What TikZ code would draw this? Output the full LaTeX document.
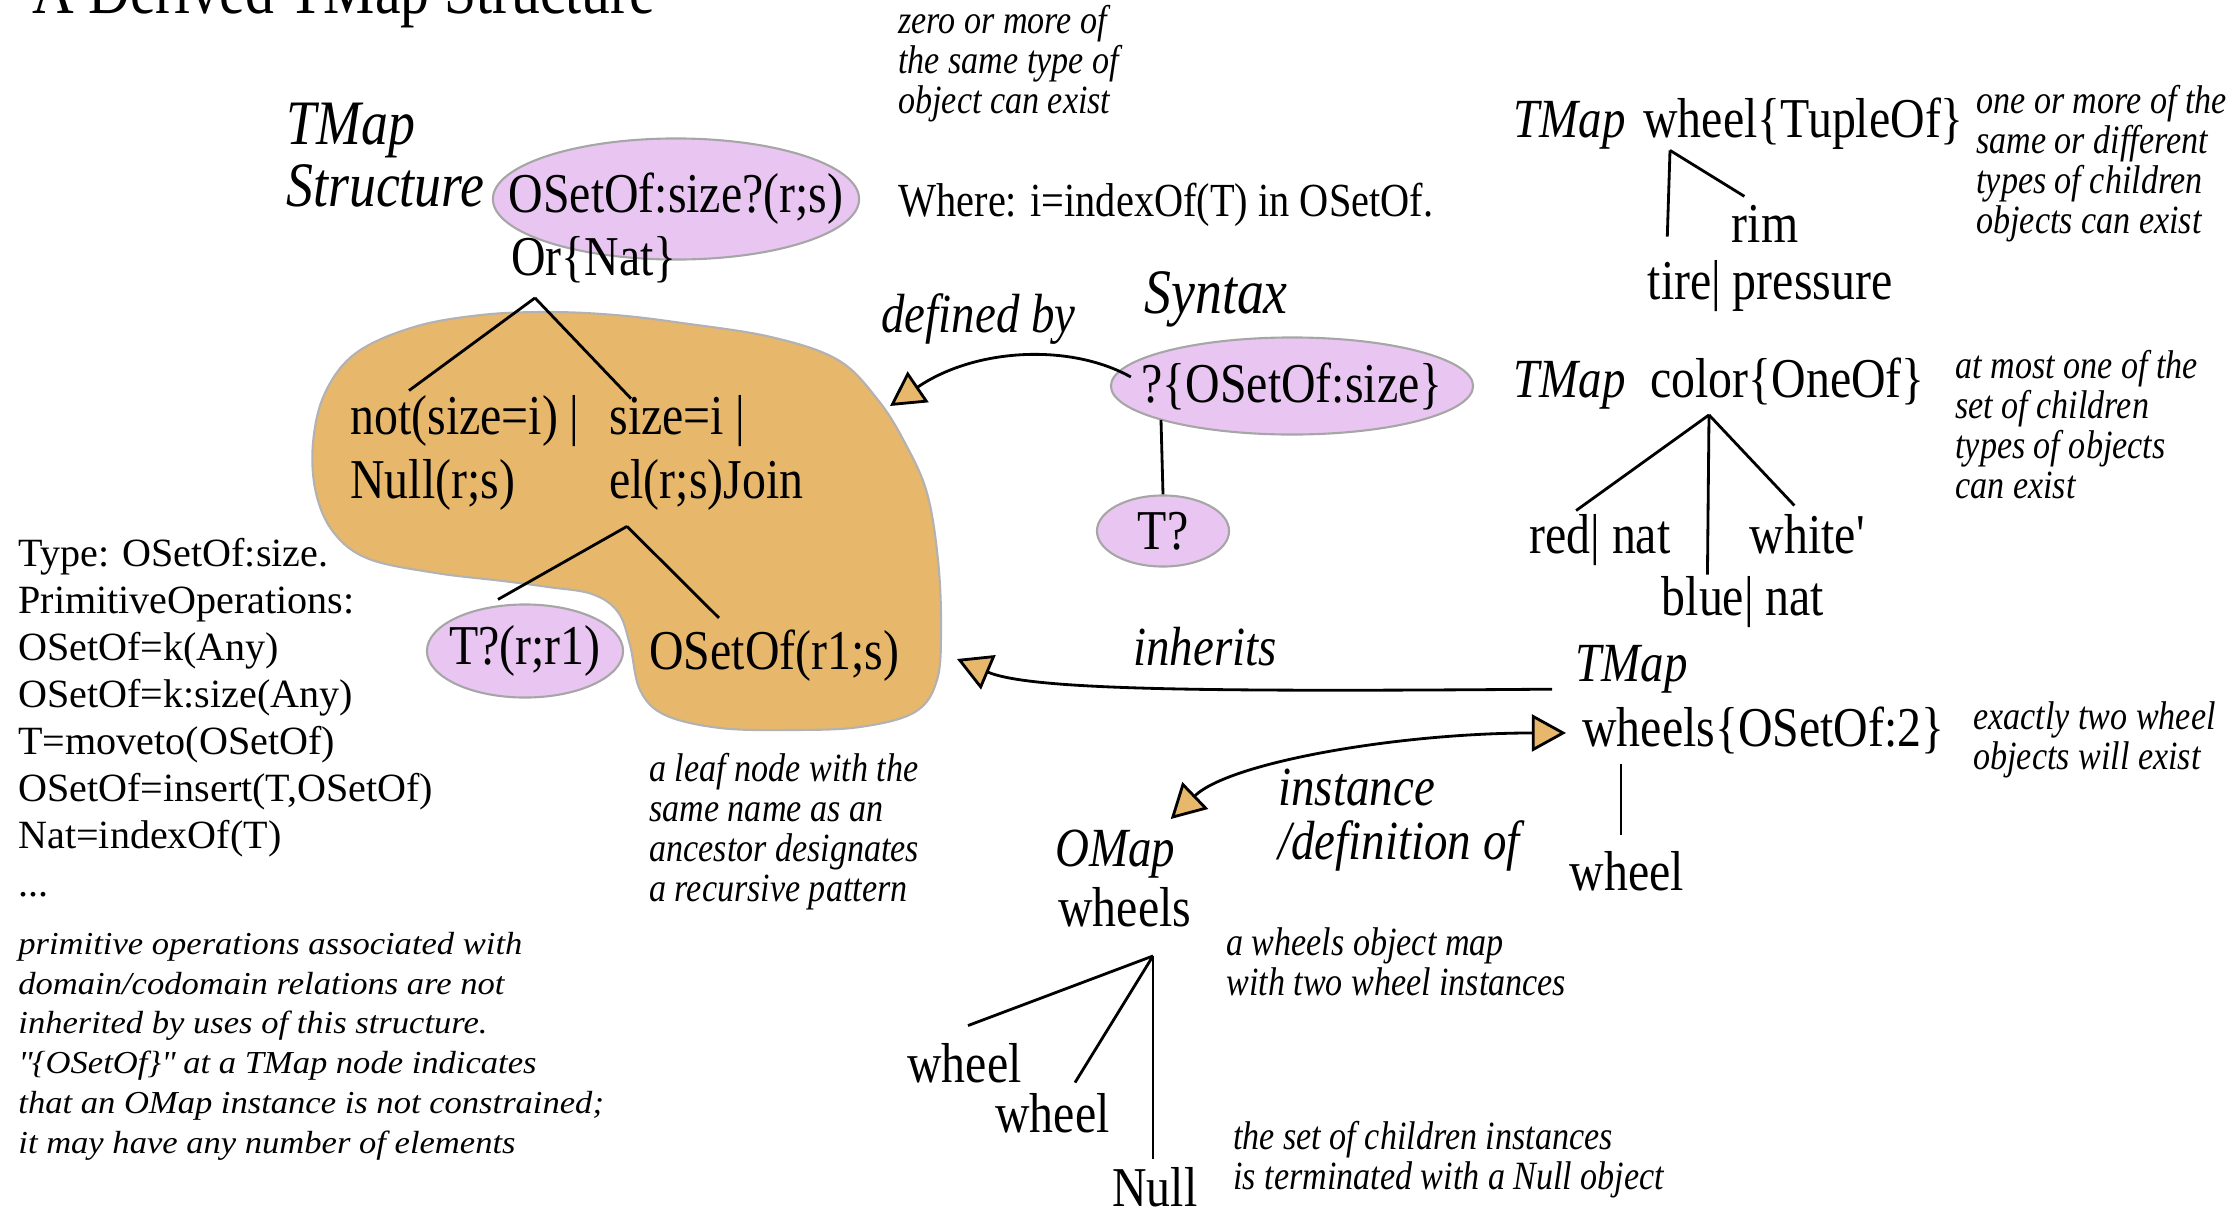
\documentclass[tikz,border=0pt]{standalone}
\usepackage{fontspec}
\setmainfont{Liberation Serif}[FakeStretch=0.85]
\newfontfamily\normalschrift{Liberation Serif}
\newfontfamily\breitschrift{Liberation Serif}[FakeStretch=1.08]
\usetikzlibrary{shapes.geometric, arrows.meta, calc}
\definecolor{lila}{RGB}{233,197,241}
\definecolor{ocker}{RGB}{231,183,108}
\newcommand{\gross}{\fontsize{16}{18.2}\selectfont}
\newcommand{\mittel}{\fontsize{13.5}{16}\selectfont}
\newcommand{\titelschrift}{\fontsize{19.3}{23}\selectfont}
\newcommand{\grosskursiv}{\fontsize{18}{20}\selectfont\itshape}
\newcommand{\kursivschrift}{\fontsize{15.7}{15.1}\selectfont\itshape}
\newcommand{\notiz}{\fontsize{11.4}{11.3}\selectfont\itshape}
\newcommand{\linksschrift}{\normalschrift\fontsize{11.4}{13.37}\selectfont}
\newcommand{\breitnotiz}{\breitschrift\itshape\fontsize{9.1}{11.3}\selectfont}

\begin{document}
\begin{tikzpicture}[x=0.01cm, y=-0.01cm,
				>={Triangle[length=9.7pt, width=10.5pt, fill=ocker]},   %Pfeilspitzen
				font=\gross, line width=0.8pt,
				blase/.style={ellipse, draw=gray!70, line width=0.6pt, fill=lila, inner sep=0pt},
				txt/.style={anchor=base west, inner sep=0pt},
				mitte/.style={anchor=base, inner sep=0pt},
				notiz/.style={txt, align=left, font=\notiz},
				kursiv/.style={txt, font=\kursivschrift}]
				\useasboundingbox (0,0) rectangle (2233,1215);
				% Titel
				\node[txt, font=\titelschrift] (titel) at (31,14) {A Derived TMap Structure};
				% Blase hinter der Struktur
				\draw[gray!60, line width=0.6pt, fill=ocker] plot[smooth cycle, tension=0.6] coordinates {
					(615,315) (682,323) (771,337) (838,360) (878,400) (905,443) (927,493) (938,560)
					(941,627) (937,680) (915,712) (860,727) (791,730) (720,728) (665,715) (640,690)
					(630,645) (618,612) (592,594) (548,587) (503,581) (436,573) (369,559) (334,533)
					(316,493) (313,443) (325,393) (356,353) (414,327) (481,315) (548,312)};
				% TMap Structure (mehrzeilige Knoten: Grundlinie der letzten Zeile)
				\node[txt, font=\grosskursiv] (tmap) at (285,144) {TMap};
				\node[txt, font=\grosskursiv] (struktur) at (285,206) {Structure};
				\node[blase, minimum width=3.66cm, minimum height=1.21cm, label={center:OSetOf:size?(r;s)}] (wurzel) at (676,199) {};
				\node[txt] (ornat) at (510,275) {Or\{Nat\}};
				\node[txt, align=left] (nota) at (349,498) {not(size=i) |\\Null(r;s)};
				\node[txt, align=left] (notb) at (608,498) {size=i |\\el(r;s)Join};
				\node[blase, minimum width=1.96cm, minimum height=0.93cm, label={center:T?(r;r1)}] (tr1) at (525,651) {};
				\node[txt] (osetr1) at (648,669) {OSetOf(r1;s)};
				% Baumlinien links
				\coordinate (orspitze) at ($(ornat.south west)+(25,14)$);
				\draw (orspitze) -- ($(nota.north west)+(60,-3)$);
				\draw (orspitze) -- ($(notb.north west)+(23,5)$);
				\coordinate (elspitze) at ($(notb.south west)+(19,15)$);
				\draw (elspitze) -- ($(tr1.north)+(-27,-4)$);
				\draw (elspitze) -- ($(osetr1.north west)+(71,-10)$);
				% Notizen
				\node[notiz] (hinweisnull) at (897,113) {zero or more of\\the same type of\\object can exist};
				\node[txt, font=\mittel] (wo) at (897,216) {Where: i=indexOf(T) in OSetOf.};
				\node[notiz] (blatt) at (648,901) {a leaf node with the\\same name as an\\ancestor designates\\a recursive pattern};
				\node[txt, align=left, font=\linksschrift] (typ) at (17,896) {Type: OSetOf:size.\\PrimitiveOperations:\\OSetOf=k(Any)\\OSetOf=k:size(Any)\\T=moveto(OSetOf)\\OSetOf=insert(T,OSetOf)\\Nat=indexOf(T)\\...};
				\node[txt, align=left, font=\breitnotiz] (primnotiz) at (17,1153) {primitive operations associated with\\domain/codomain relations are not\\inherited by uses of this structure.\\\textquotedbl\{OSetOf\}\textquotedbl{} at a TMap node indicates\\that an OMap instance is not constrained;\\it may have any number of elements};
				% Syntax
				\node[kursiv] (defby) at (880,332) {defined by};
				\node[txt, font=\grosskursiv] (syntax) at (1143,313) {Syntax};
				\node[blase, minimum width=3.62cm, minimum height=0.97cm, label={center:?\{OSetOf:size\}}] (syn) at (1292,386) {};
				\node[blase, minimum width=1.32cm, minimum height=0.71cm, label={center:T?}] (tq) at (1163,531) {};
				\draw ($(syn.center)+(-131,34)$) -- (tq.north);
				\coordinate (defziel) at (890,406);
				\draw[->] ($(syn.west)+(21,-9)$) .. controls (1070,343) and (975,348) .. (defziel);
				% TMap wheel
				\node[kursiv] (tmapa) at (1512,137) {TMap};
				\node[txt] (wtup) at (1642,137) {wheel\{TupleOf\}};
				\node[notiz] (hinweiseins) at (1975,233) {one or more of the\\same or different\\types of children\\objects can exist};
				\node[mitte] (rim) at (1765,242) {rim};
				\node[mitte] (tire) at (1770,299) {tire| pressure};
				\coordinate (tupspitze) at ($(wtup.south west)+(28,0)$);
				\draw (tupspitze) -- ($(tire.north west)+(21,-22)$);
				\draw (tupspitze) -- ($(rim.north west)+(14,-7)$);
				% TMap color
				\node[kursiv] (tmapb) at (1512,397) {TMap};
				\node[txt] (col) at (1649,397) {color\{OneOf\}};
				\node[notiz] (hinweiszwei) at (1954,498) {at most one of the\\set of children\\types of objects\\can exist};
				\node[mitte] (red) at (1600,553) {red| nat};
				\node[mitte] (white) at (1808,553) {white\textquotesingle};
				\node[mitte] (blue) at (1743,615) {blue| nat};
				\coordinate (colspitze) at ($(col.south west)+(60,9)$);
				\draw (colspitze) -- ($(red.north west)+(48,-2)$);
				\draw (colspitze) -- ($(blue.north west)+(47,0)$);
				\draw (colspitze) -- ($(white.north west)+(46,-7)$);
				% TMap wheels
				\node[kursiv] (tmapw) at (1574,681) {TMap};
				\node[txt] (wheelsb) at (1581,746) {wheels\{OSetOf:2\}};
				\node[notiz] (hinweisdrei) at (1972,769) {exactly two wheel\\objects will exist};
				\node[mitte] (wheelc) at (1627,890) {wheel};
				\draw ($(wheelsb.south west)+(40,9)$) -- ($(wheelc.north)+(-6,-15)$);
				\node[kursiv] (inh) at (1132,665) {inherits};
				\coordinate (erbziel) at (957,659);
				\draw[->] ($(tmapw.south west)+(-22,-5)$) .. controls (1200,692) and (1030,690) .. (erbziel);
				% OMap wheels
				\node[kursiv, align=left] (inst) at (1277,859) {instance\\/definition of};
				\node[kursiv] (omap) at (1054,866) {OMap};
				\node[txt] (omw) at (1057,926) {wheels};
				\draw[<->] ($(omap.north east)+(-6,-9)$) .. controls (1230,762) and (1400,733) .. ($(wheelsb.west)+(-15,3)$);
				\node[notiz] (hinweisvier) at (1225,995) {a wheels object map\\with two wheel instances};
				\node[txt] (wa) at (906,1082) {wheel};
				\node[txt] (wb) at (994,1132) {wheel};
				\node[txt] (null) at (1111,1206) {Null};
				\node[notiz] (hinweisfuenf) at (1232,1189) {the set of children instances\\is terminated with a Null object};
				\coordinate (omspitze) at ($(omw.south west)+(96,28)$);
				\draw (omspitze) -- ($(wa.north west)+(62,-16)$);
				\draw (omspitze) -- ($(wb.north west)+(81,-9)$);
				\draw (omspitze) -- ($(null.north west)+(42,-7)$);
			\end{tikzpicture}
\end{document}
